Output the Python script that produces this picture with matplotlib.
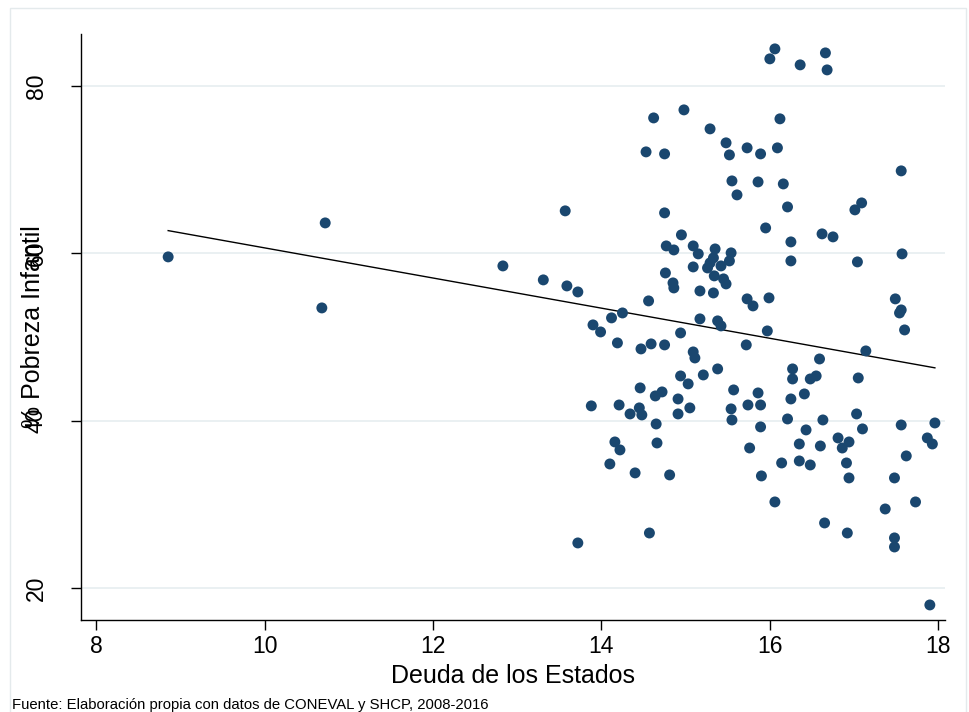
import matplotlib
matplotlib.use("Agg")
import matplotlib.pyplot as plt
from matplotlib.patches import Rectangle

plt.rcParams['font.family'] = ['Liberation Sans', 'DejaVu Sans']

deuda = [8.855, 10.72, 10.68, 12.83, 13.31, 13.57, 13.59, 13.72, 13.90, 13.99,
         14.12, 14.25, 14.19, 14.47, 14.59, 14.75, 14.94, 15.09, 15.11, 14.94,
         15.03, 14.46, 14.64, 14.72, 14.91, 15.05, 14.91, 13.88, 14.21, 14.34,
         14.45, 14.48, 14.65, 14.16, 14.22, 14.66, 14.10, 14.40, 14.81, 14.57,
         13.72, 15.21, 14.98, 14.62, 14.53, 14.75, 14.75, 14.95, 14.77, 14.86,
         15.09, 15.15, 14.76, 14.85, 14.86, 15.09, 15.17, 14.56, 15.17, 16.06,
         16.00, 16.36, 16.66, 16.68, 16.12, 15.29, 15.48, 15.52, 15.73, 15.89,
         16.09, 15.55, 15.61, 15.86, 16.16, 16.21, 15.95, 16.25, 16.62, 16.75,
         16.25, 15.35, 15.54, 15.52, 15.33, 15.29, 15.26, 15.42, 15.34, 15.45,
         15.48, 15.33, 15.73, 15.80, 15.99, 15.38, 15.42, 15.97, 15.72, 15.38,
         16.59, 16.27, 16.27, 16.48, 16.55, 16.41, 16.25, 15.57, 15.86, 15.74,
         15.89, 15.54, 15.55, 16.21, 16.63, 15.89, 16.43, 15.76, 16.35, 16.60,
         16.81, 16.86, 16.94, 16.91, 16.94, 16.14, 16.35, 16.48, 15.90, 16.06,
         16.65, 16.92, 17.56, 17.09, 17.01, 17.04, 17.57, 17.49, 17.56, 17.54,
         17.60, 17.14, 17.05, 17.03, 17.10, 17.56, 17.96, 17.87, 17.93, 17.62,
         17.48, 17.73, 17.37, 17.48, 17.48, 17.90]

pobreza = [59.56, 63.62, 53.46, 58.48, 56.81, 65.06, 56.09, 55.37, 51.43, 50.59,
           52.27, 52.86, 49.28, 48.56, 49.16, 49.04, 50.47, 48.20, 47.48, 45.33,
           44.38, 43.90, 42.94, 43.42, 42.58, 41.51, 40.79, 41.75, 41.86, 40.79,
           41.51, 40.67, 39.59, 37.44, 36.49, 37.32, 34.81, 33.74, 33.50, 26.56,
           25.37, 45.45, 77.13, 76.17, 72.11, 71.87, 64.82, 62.19, 60.87, 60.39,
           60.87, 59.92, 57.64, 56.45, 55.85, 58.36, 55.49, 54.30, 52.15, 84.42,
           83.23, 82.51, 83.94, 81.91, 76.06, 74.86, 73.19, 71.75, 72.59, 71.87,
           72.59, 68.64, 66.97, 68.52, 68.28, 65.53, 63.02, 61.35, 62.31, 61.95,
           59.08, 60.51, 60.04, 59.08, 59.44, 58.84, 58.24, 58.48, 57.29, 56.93,
           56.33, 55.25, 54.54, 53.70, 54.66, 51.91, 51.31, 50.71, 49.04, 46.17,
           47.36, 46.17, 44.97, 44.97, 45.33, 43.18, 42.58, 43.66, 43.30, 41.86,
           41.86, 41.39, 40.07, 40.19, 40.07, 39.24, 38.88, 36.72, 37.20, 36.96,
           37.92, 36.72, 37.44, 34.93, 33.14, 34.93, 35.17, 34.69, 33.38, 30.27,
           27.76, 26.56, 69.84, 66.01, 65.18, 58.96, 59.92, 54.54, 53.22, 52.86,
           50.83, 48.32, 45.09, 40.79, 39.00, 39.47, 39.71, 37.92, 37.20, 35.77,
           33.14, 30.27, 29.43, 25.97, 24.89, 17.96]

fit_x = [8.855, 17.96]
fit_y = [62.7, 46.3]

xticks = [8, 10, 12, 14, 16, 18]
yticks = [20, 40, 60, 80]

fig = plt.figure(figsize=(9.69, 7.12), dpi=100)
fig.patch.set_facecolor('white')
fig.patches.append(Rectangle((10/969, -0.02), (966-10)/969, 1 - 8/712 + 0.02,
                             transform=fig.transFigure, fill=False,
                             edgecolor='#e4eaec', linewidth=1.0))

ax = fig.add_axes([81/969, 1 - 620/712, (945-81)/969, (620-34)/712])
ax.set_facecolor('white')

for yt in yticks:
    ax.axhline(yt, color='#e8eff1', linewidth=1.3, zorder=0)

ax.scatter(deuda, pobreza, s=62, color='#1a476f', edgecolors='none', zorder=3)
ax.plot(fit_x, fit_y, color='black', linewidth=1.0, zorder=2)

ax.set_xlim(7.82, 18.08)
ax.set_ylim(16.16, 86.2)
ax.set_xticks(xticks)
ax.set_yticks(yticks)
ax.set_xticklabels([str(t) for t in xticks], fontsize=16.5)
ax.set_yticklabels([str(t) for t in yticks], fontsize=16.5, rotation=90, va='center')

for s in ['top', 'right']:
    ax.spines[s].set_visible(False)
for s in ['left', 'bottom']:
    ax.spines[s].set_color('black')
    ax.spines[s].set_linewidth(1.0)

ax.tick_params(axis='both', direction='out', length=7, width=1.0, color='black')
ax.tick_params(axis='x', pad=4)
ax.tick_params(axis='y', pad=17)

ax.set_xlabel('Deuda de los Estados', fontsize=18, labelpad=4)
ax.set_ylabel('% Pobreza Infantil', fontsize=18)
ax.yaxis.set_label_coords((45 - 81) / 864, 0.5)

fig.text(12/969, 1 - 705/712, 'Fuente: Elaboración propia con datos de CONEVAL y SHCP, 2008-2016',
         fontsize=10.75, va='center', ha='left')

fig.savefig('out.png', dpi=100, facecolor='white')
